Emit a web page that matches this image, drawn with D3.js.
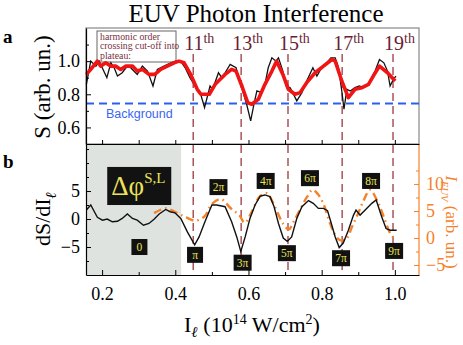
<!DOCTYPE html>
<html>
<head lang="en">
<meta charset="UTF-8">
<title>EUV Photon Interference</title>
<style>
  body { margin: 0; background: #fff; }
  svg text { font-family: "Liberation Serif", "Times New Roman", serif; }
  .tick text { font-size: 18px; }
  .phase text { font-size: 11.5px; fill: #ece35a; }
</style>
</head>
<body>
<svg width="463" height="345"></svg>
<script src="https://d3js.org/d3.v7.min.js"></script>
<script>
// ---- data ----
// top panel: raw signal S (black) and smoothed (red)
var rawX = [0.157,0.169,0.183,0.192,0.213,0.224,0.233,0.242,0.255,0.269,0.278,0.296,0.310,0.324,0.339,0.351,0.369,0.388,0.401,0.415,0.427,0.440,0.457,0.468,0.480,0.495,0.502,0.518,0.527,0.536,0.550,0.566,0.579,0.595,0.606,0.615,0.623,0.636,0.645,0.654,0.664,0.675,0.682,0.694,0.703,0.714,0.732,0.746,0.759,0.776,0.787,0.800,0.814,0.825,0.837,0.846,0.855,0.861,0.869,0.878,0.891,0.903,0.914,0.928,0.946,0.958,0.970,0.980,0.987,0.996,1.003];
var rawS = [0.86,1.00,0.97,1.00,0.90,0.99,0.96,0.91,0.93,0.97,0.96,0.92,0.97,0.94,0.85,0.95,0.97,0.99,1.00,1.00,0.96,0.90,0.84,0.81,0.72,0.85,0.83,0.93,0.90,0.93,0.98,0.96,0.86,0.74,0.64,0.74,0.82,0.81,0.86,0.96,1.02,1.00,1.02,0.94,0.85,0.84,0.76,0.81,0.88,0.96,0.91,0.96,0.99,1.02,1.02,0.96,0.82,0.71,0.83,0.82,0.84,0.85,0.84,0.86,0.94,1.01,0.99,0.94,0.85,0.89,0.91];
var smoothX = [0.157,0.169,0.187,0.196,0.210,0.224,0.237,0.251,0.265,0.283,0.296,0.310,0.328,0.344,0.360,0.378,0.397,0.410,0.424,0.442,0.460,0.470,0.493,0.509,0.518,0.536,0.554,0.566,0.582,0.598,0.609,0.627,0.645,0.664,0.677,0.694,0.709,0.727,0.741,0.759,0.782,0.805,0.828,0.837,0.855,0.873,0.891,0.910,0.928,0.941,0.958,0.980,1.001];
var smoothS = [0.92,0.95,1.00,0.97,0.99,0.97,0.97,0.95,0.97,0.97,0.94,0.95,0.92,0.92,0.95,0.97,0.99,1.00,0.99,0.92,0.83,0.80,0.80,0.86,0.88,0.92,0.95,0.94,0.85,0.75,0.74,0.77,0.86,0.94,1.00,0.92,0.83,0.80,0.81,0.87,0.93,0.97,1.01,1.00,0.88,0.78,0.83,0.84,0.86,0.91,0.97,0.93,0.88];
var background = 0.745;

// bottom panel: derivative dS/dI (black) and I_EUV (orange, right axis)
var derivX = [0.157,0.169,0.187,0.201,0.214,0.228,0.242,0.255,0.269,0.283,0.296,0.313,0.328,0.342,0.356,0.374,0.386,0.399,0.415,0.433,0.453,0.465,0.481,0.500,0.513,0.536,0.554,0.568,0.579,0.591,0.604,0.618,0.632,0.645,0.659,0.670,0.682,0.695,0.706,0.718,0.732,0.746,0.764,0.777,0.791,0.805,0.816,0.825,0.837,0.848,0.859,0.873,0.887,0.894,0.905,0.919,0.937,0.949,0.964,0.976,0.987,1.005];
var derivY = [1.6,2.5,0.3,-0.2,0,-0.5,-0.4,0.1,0.9,0.1,-0.2,-1.1,-0.8,-0.05,0.9,1.7,1.3,1.1,0.1,-2.3,-4.6,-3.2,-0.5,2.5,2.5,2.2,-0.5,-3.2,-5.8,-3.2,0.1,2.5,4.1,4.3,4.0,2.2,-0.8,-3.4,-4.0,-3.2,0.1,2.2,3.3,2.8,1.9,1.9,1.5,-0.5,-3.2,-5.1,-4.3,-2.0,0.7,1.6,0.7,1.6,2.8,3.4,0.4,-1.7,-2.0,-2.0];
var euvX = [0.342,0.374,0.400,0.430,0.455,0.480,0.500,0.525,0.550,0.575,0.590,0.610,0.630,0.650,0.665,0.680,0.695,0.710,0.725,0.745,0.760,0.775,0.790,0.805,0.820,0.835,0.850,0.868,0.883,0.900,0.915,0.932,0.955,0.973,0.987,0.998];
var euvY = [4.6,5.5,4.8,3.8,3.2,4.0,6.3,7.2,5.6,4.2,2.8,5.0,7.6,8.3,6.8,4.6,2.6,1.6,3.2,5.8,7.6,8.9,8.1,6.3,3.3,0.8,-0.4,-0.1,2.1,4.6,7.0,8.9,6.4,3.3,0.9,-0.1];

// harmonic cut-off crossings
var harmonics = ["11", "13", "15", "17", "19"];
var harmonicX = [0.449, 0.580, 0.708, 0.856, 0.995];

// phase labels (x in I units, y in dS/dI units)
var phaseText = ["0", "\u03c0", "2\u03c0", "3\u03c0", "4\u03c0", "5\u03c0", "6\u03c0", "7\u03c0", "8\u03c0", "9\u03c0"];
var phaseX = [0.302, 0.454, 0.518, 0.584, 0.647, 0.705, 0.768, 0.853, 0.935, 0.998];
var phaseY = [-5.0, -6.4, 5.7, -7.8, 6.8, -6.1, 7.3, -7.0, 6.8, -5.7];

var plateauEnd = 0.416;

var xTicks = [0.2, 0.4, 0.6, 0.8, 1.0];
var topTicks = [0.6, 0.8, 1.0];
var botTicks = [-5, 0, 5];
var rightTicks = [-5, 0, 5, 10];

// ---- layout ----
var svg = d3.select("svg");
var left = 86, right = 419, topY = 28, midY = 144, botY = 275;

var x = d3.scaleLinear().domain([0.156, 1.066]).range([left, right]);
var yTop = d3.scaleLinear().domain([0.5, 1.2]).range([midY, topY]);
var yBot = d3.scaleLinear().domain([-10, 13.4]).range([botY, midY]);
var yRight = d3.scaleLinear().domain([-6.85, 17.4]).range([botY, midY]);

var maroon = "#6a1d33";
var dashRed = "#a5464f";
var orange = "#f5822a";

// grey plateau region
svg.append("rect")
    .attr("x", x(x.domain()[0]))
    .attr("y", midY)
    .attr("width", x(plateauEnd) - x(x.domain()[0]))
    .attr("height", botY - midY)
    .attr("fill", "#dfe3e0");

// top panel frame (grey top/right)
svg.append("rect")
    .attr("x", left).attr("y", topY)
    .attr("width", right - left).attr("height", midY - topY)
    .attr("fill", "none").attr("stroke", "#888").attr("stroke-width", 1.2);

// harmonic markers
svg.append("g").selectAll("line")
    .data(harmonicX)
    .enter().append("line")
    .attr("x1", function (d) { return x(d); })
    .attr("x2", function (d) { return x(d); })
    .attr("y1", 54).attr("y2", botY)
    .attr("stroke", dashRed).attr("stroke-width", 1.4)
    .attr("stroke-dasharray", "8,5");

var hl = svg.append("g").selectAll("text")
    .data(harmonics)
    .enter().append("text")
    .attr("x", function (d, i) { return x(harmonicX[i]) - 9; })
    .attr("y", 50)
    .attr("fill", maroon)
    .style("font-size", "20px");
hl.append("tspan").text(function (d) { return d; });
hl.append("tspan").attr("dy", -7).style("font-size", "14px").text("th");

// legend box
svg.append("rect")
    .attr("x", 97).attr("y", 31).attr("width", 79).attr("height", 31)
    .attr("fill", "#fff").attr("fill-opacity", 0.6)
    .attr("stroke", "#666").attr("stroke-width", 1);
svg.append("g").selectAll("text")
    .data(["harmonic order", "crossing cut-off into", "plateau:"])
    .enter().append("text")
    .attr("x", 100)
    .attr("y", function (d, i) { return 39.5 + i * 9.8; })
    .attr("fill", "#7a3040")
    .style("font-size", "9.8px")
    .text(function (d) { return d; });

// background level
svg.append("line")
    .attr("x1", left).attr("x2", right)
    .attr("y1", yTop(background)).attr("y2", yTop(background))
    .attr("stroke", "#2b5ff0").attr("stroke-width", 2)
    .attr("stroke-dasharray", "8,5");
svg.append("text")
    .attr("x", 106).attr("y", 118)
    .attr("fill", "#3a66f0")
    .style("font-family", "'Liberation Sans', Arial, sans-serif")
    .style("font-size", "12.5px")
    .text("Background");

var lineTop = d3.line()
    .x(function (d) { return x(d[0]); })
    .y(function (d) { return yTop(d[1]); });

svg.append("path")
    .datum(d3.zip(rawX, rawS))
    .attr("d", lineTop)
    .attr("fill", "none").attr("stroke", "#111").attr("stroke-width", 1.3);

svg.append("path")
    .datum(d3.zip(smoothX, smoothS))
    .attr("d", lineTop)
    .attr("fill", "none").attr("stroke", "#f01414").attr("stroke-width", 3.6)
    .attr("stroke-linejoin", "round");

// bottom panel lines
svg.append("path")
    .datum(d3.zip(euvX, euvY))
    .attr("d", d3.line().curve(d3.curveCatmullRom)
        .x(function (d) { return x(d[0]); })
        .y(function (d) { return yRight(d[1]); }))
    .attr("fill", "none").attr("stroke", orange).attr("stroke-width", 2.4)
    .attr("stroke-dasharray", "8,4,1.5,4");

svg.append("path")
    .datum(d3.zip(derivX, derivY))
    .attr("d", d3.line()
        .x(function (d) { return x(d[0]); })
        .y(function (d) { return yBot(d[1]); }))
    .attr("fill", "none").attr("stroke", "#111").attr("stroke-width", 1.4);

// delta phi box
var dpx = x(0.214), dpy = yBot(9.3);
svg.append("rect")
    .attr("x", dpx).attr("y", dpy)
    .attr("width", x(0.389) - dpx).attr("height", yBot(2.5) - dpy)
    .attr("fill", "#121212");
var dp = svg.append("text")
    .attr("x", dpx + 4).attr("y", dpy + 28)
    .attr("fill", "#ece35a")
    .style("font-size", "27px");
dp.append("tspan").text("\u0394\u03c6");
dp.append("tspan").attr("dy", -12).style("font-size", "15px").text("S,L");

// phase labels
var ph = svg.append("g").attr("class", "phase").selectAll("g")
    .data(phaseText)
    .enter().append("g")
    .attr("transform", function (d, i) {
        return "translate(" + x(phaseX[i]) + "," + yBot(phaseY[i]) + ")";
    });
ph.append("rect")
    .attr("x", function (d) { return d.length > 1 ? -9 : -8; })
    .attr("y", -8)
    .attr("width", function (d) { return d.length > 1 ? 18 : 16; })
    .attr("height", 16)
    .attr("fill", "#111");
ph.append("text")
    .attr("text-anchor", "middle")
    .attr("y", 4)
    .text(function (d) { return d; });

// ---- axes ----
function styleAxis(g, color) {
    g.select(".domain").attr("stroke", color).attr("stroke-width", 1.2);
    g.selectAll(".tick line").attr("stroke", color);
    g.selectAll(".tick text").attr("fill", color);
}

// top panel left axis
var gTL = svg.append("g").attr("transform", "translate(" + left + ",0)")
    .call(d3.axisLeft(yTop).tickValues(topTicks).tickFormat(d3.format(".1f"))
        .tickSize(-5).tickSizeOuter(0).tickPadding(6));
styleAxis(gTL, "#000");
svg.append("g").attr("transform", "translate(" + left + ",0)")
    .call(d3.axisLeft(yTop).tickValues([0.7, 0.9, 1.1]).tickFormat("").tickSize(-3).tickSizeOuter(0))
    .select(".domain").remove();

// shared divider with ticks
var gMid = svg.append("g").attr("transform", "translate(0," + midY + ")")
    .call(d3.axisBottom(x).tickValues(d3.range(0.2, 1.05, 0.1)).tickFormat("").tickSize(-4).tickSizeOuter(0));
styleAxis(gMid, "#000");

// bottom x axis
var gB = svg.append("g").attr("transform", "translate(0," + botY + ")")
    .call(d3.axisBottom(x).tickValues(xTicks).tickFormat(d3.format(".1f"))
        .tickSize(-5).tickSizeOuter(0).tickPadding(9));
styleAxis(gB, "#000");
gB.selectAll(".tick text").attr("dy", "0.9em");
svg.append("g").attr("transform", "translate(0," + botY + ")")
    .call(d3.axisBottom(x).tickValues([0.3, 0.5, 0.7, 0.9]).tickFormat("").tickSize(-3).tickSizeOuter(0))
    .select(".domain").remove();

// bottom left axis
var gBL = svg.append("g").attr("transform", "translate(" + left + ",0)")
    .call(d3.axisLeft(yBot).tickValues(botTicks).tickSize(-5).tickSizeOuter(0).tickPadding(6));
styleAxis(gBL, "#000");
svg.append("g").attr("transform", "translate(" + left + ",0)")
    .call(d3.axisLeft(yBot).tickValues([-7.5, -2.5, 2.5, 7.5, 10, 12.5]).tickFormat("").tickSize(-3).tickSizeOuter(0))
    .select(".domain").remove();

// right orange axis
var gR = svg.append("g").attr("transform", "translate(" + right + ",0)")
    .call(d3.axisRight(yRight).tickValues(rightTicks).tickSize(-5).tickSizeOuter(0).tickPadding(7));
styleAxis(gR, orange);
gR.select(".domain").attr("d", "M0," + (midY + 1) + "V" + botY);
svg.append("g").attr("transform", "translate(" + right + ",0)")
    .call(d3.axisRight(yRight).tickValues([-2.5, 2.5, 7.5, 12.5]).tickFormat("").tickSize(-3).tickSizeOuter(0))
    .call(function (g) { g.select(".domain").remove(); g.selectAll("line").attr("stroke", orange); });

// ---- titles and labels ----
svg.append("text")
    .attr("x", 256).attr("y", 22)
    .attr("text-anchor", "middle")
    .style("font-size", "25px")
    .text("EUV Photon Interference");

svg.append("text").attr("x", 3).attr("y", 43)
    .style("font-size", "19px").style("font-weight", "bold").text("a");
svg.append("text").attr("x", 3).attr("y", 168)
    .style("font-size", "19px").style("font-weight", "bold").text("b");

svg.append("text")
    .attr("transform", "translate(50," + ((topY + midY) / 2 + 1) + ") rotate(-90)")
    .attr("text-anchor", "middle")
    .style("font-size", "23px")
    .text("S (arb. un.)");

var yl = svg.append("text")
    .attr("transform", "translate(50,219) rotate(-90)")
    .attr("text-anchor", "middle")
    .style("font-size", "22px");
yl.append("tspan").text("dS/dI");
yl.append("tspan").attr("dy", 6).style("font-size", "15px")
    .style("font-style", "italic").style("font-weight", "bold").text("\u2113");

var rl = svg.append("text")
    .attr("transform", "translate(446,222) rotate(90)")
    .attr("text-anchor", "middle")
    .attr("fill", orange)
    .style("font-size", "17px");
rl.append("tspan").style("font-style", "italic").text("I");
rl.append("tspan").attr("dy", 5).style("font-size", "10.5px").style("font-style", "italic").text("EUV");
rl.append("tspan").attr("dy", -5).text(" (arb. un.)");

var xl = svg.append("text")
    .attr("x", 252).attr("y", 332)
    .attr("text-anchor", "middle")
    .style("font-size", "22px");
xl.append("tspan").text("I");
xl.append("tspan").attr("dy", 5).style("font-size", "15px")
    .style("font-style", "italic").style("font-weight", "bold").text("\u2113");
xl.append("tspan").attr("dy", -5).text(" (10");
xl.append("tspan").attr("dy", -8).style("font-size", "14px").text("14");
xl.append("tspan").attr("dy", 8).text(" W/cm");
xl.append("tspan").attr("dy", -8).style("font-size", "14px").text("2");
xl.append("tspan").attr("dy", 8).text(")");
</script>
</body>
</html>
